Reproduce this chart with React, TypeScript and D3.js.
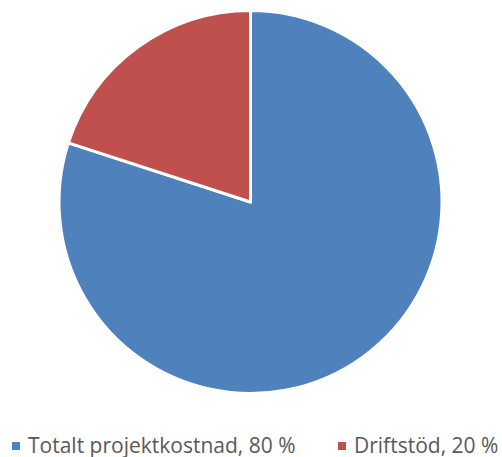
import { useEffect, useRef } from 'react';
import * as d3 from 'd3';

const categories = ['Totalt projektkostnad', 'Driftstöd'];
const values = [80, 20];
const colors = ['#4F81BD', '#C0504D'];

function PieChart() {
	const ref = useRef<SVGSVGElement>(null);

	useEffect(() => {
		const svg = d3.select(ref.current);
		svg.selectAll('*').remove();

		const cx = 250.5;
		const cy = 202;
		const radius = 191.5;

		const data = categories.map((c, i) => ({ name: c, value: values[i], color: colors[i] }));

		const pie = d3
			.pie<{ name: string; value: number; color: string }>()
			.value(d => d.value)
			.sort(null);
		const arc = d3
			.arc<d3.PieArcDatum<{ name: string; value: number; color: string }>>()
			.innerRadius(0)
			.outerRadius(radius);

		svg
			.append('g')
			.attr('transform', `translate(${cx},${cy})`)
			.selectAll('path')
			.data(pie(data))
			.enter()
			.append('path')
			.attr('d', arc)
			.attr('fill', d => d.data.color)
			.attr('stroke', '#ffffff')
			.attr('stroke-width', 3)
			.attr('stroke-linejoin', 'round');

		// legend
		const legendX = [12, 338];
		const legend = svg
			.append('g')
			.selectAll('g')
			.data(data)
			.enter()
			.append('g')
			.attr('transform', (d, i) => `translate(${legendX[i]},0)`);
		legend
			.append('rect')
			.attr('x', 0)
			.attr('y', 442)
			.attr('width', 8)
			.attr('height', 8)
			.attr('fill', d => d.color);
		legend
			.append('text')
			.attr('x', 16)
			.attr('y', 453)
			.attr('font-family', '"Open Sans", sans-serif')
			.attr('font-size', 21)
			.attr('fill', '#595959')
			.text(d => `${d.name}, ${d.value} %`);
	}, []);

	return <svg ref={ref} width={502} height={457} style={{ display: 'block' }} />;
}

export default function App() {
	return (
		<div style={{ position: 'absolute', left: 0, top: 0 }}>
			<PieChart />
		</div>
	);
}
